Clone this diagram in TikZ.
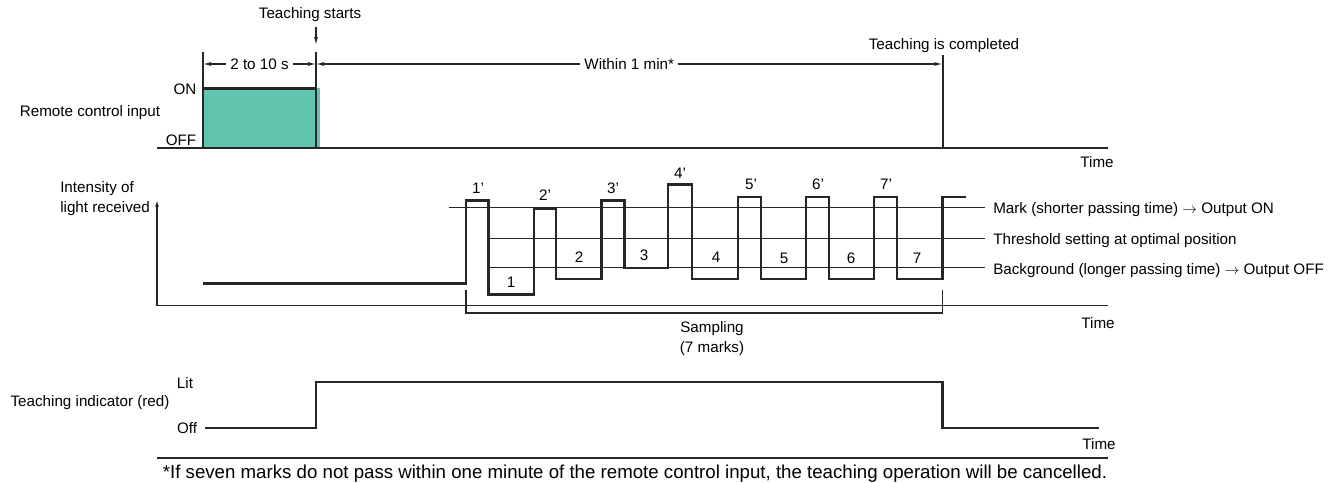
\documentclass[tikz,border=0pt]{standalone}
\usepackage{fontspec}
\setmainfont{Liberation Sans}
\usepackage{xcolor}
\definecolor{teachgreen}{RGB}{96,196,174}
\definecolor{sigdark}{RGB}{38,38,38}
\usetikzlibrary{arrows.meta,positioning}

\begin{document}
\begin{tikzpicture}[x=0.75pt,y=-0.75pt,
    lbl/.style={font=\fontsize{11.4}{13.6}\selectfont, inner sep=0pt},
    sig/.style={line width=1.8pt, draw=sigdark},
    axis/.style={line width=1.2pt, draw=sigdark},
    refline/.style={line width=0.8pt, draw=sigdark},
    dimline/.style={line width=0.9pt, draw=sigdark,
                 {Latex[length=6pt,width=3pt]}-{Latex[length=6pt,width=3pt]}},
    dimtxt/.style={lbl, fill=white, inner xsep=3pt, inner ysep=1pt},
    arr/.style={-{Latex[length=6pt,width=3pt]}, line width=0.9pt, draw=sigdark},
  ]
    \useasboundingbox (0,0) rectangle (1338,482);

    % remote control input
    \node[lbl] (tstart) at (310,15) {Teaching starts};
    \coordinate (tsbeg) at (316,27);
    \coordinate (tsend) at (316,45);
    \draw[arr] (tsbeg) -- (tsend);

    \coordinate (t0) at (203,64);
    \coordinate (t1) at (316,64);
    \coordinate (t2) at (942.5,64);
    \draw[refline] (203,52) -- (203,88);
    \draw[refline] (316,52) -- (316,88);
    \draw[dimline] (t0) -- node[dimtxt] (dimA) {2 to 10 s} (t1);
    \draw[dimline] (t1) -- node[dimtxt] (dimB) {Within 1 min*} (t2);
    \node[lbl] (tdone) at (944,46) {Teaching is completed};
    \draw[line width=1.5pt, draw=sigdark] (942.5,55) -- (942.5,148);

    \fill[teachgreen] (203,88) rectangle (319.5,148);
    \draw[sig, line width=1.5pt] (203,148) -- (203,88.5);
    \draw[sig] (316,88.5) -- (316,148);
    \draw[sig, line width=2.4pt] (202.3,88.5) -- (316.8,88.5);
    \draw[axis] (157,148) -- (1108,148);
    \node[lbl] (on)  at (185,89)  {ON};
    \node[lbl] (off) at (181,140) {OFF};
    \node[lbl] (rci) at (90,112.5) {Remote control input};
    \node[lbl] (time1) at (1097,162) {Time};

    % intensity of light received
    \node[lbl, align=left, anchor=north west] (ilr) at (60,181) {Intensity of\\[1.5pt]light received};
    \draw[axis, -{Latex[length=5pt,width=3pt]}] (157,305.5) -- (157,200);
    \draw[axis] (157,305.5) -- (1108,305.5);
    \node[lbl] (time2) at (1098,323) {Time};

    \draw[refline] (449,207.7) -- (985,207.7);
    \draw[refline] (488.5,238.3) -- (985,238.3);
    \draw[refline] (488.5,267.7) -- (985,267.7);
    \node[lbl, anchor=west] (markl) at (993,210) {Mark (shorter passing time) $\rightarrow$ Output ON};
    \node[lbl, anchor=west] (thrl)  at (993,240.5) {Threshold setting at optimal position};
    \node[lbl, anchor=west] (bgl)   at (993,270.5) {Background (longer passing time) $\rightarrow$ Output OFF};

    \draw[sig] (203,283.3) -- (466,283.3) -- (466,200.3) -- (488.5,200.3)
      -- (488.5,294.3) -- (534,294.3) -- (534,208.5) -- (556,208.5)
      -- (556,279) -- (601.5,279) -- (601.5,200.3) -- (624.5,200.3)
      -- (624.5,268) -- (668,268) -- (668,184.3) -- (692,184.3)
      -- (692,279) -- (738,279) -- (738,196.7) -- (761,196.7)
      -- (761,279) -- (806,279) -- (806,196.7) -- (829,196.7)
      -- (829,279) -- (874,279) -- (874,196.7) -- (897,196.7)
      -- (897,279) -- (942.5,279) -- (942.5,196.7) -- (966,196.7);

    \node[lbl] (m1) at (478,188) {1'};
    \node[lbl] (m2) at (545,195) {2'};
    \node[lbl] (m3) at (613,188) {3'};
    \node[lbl] (m4) at (680,173) {4'};
    \node[lbl] (m5) at (751,184) {5'};
    \node[lbl] (m6) at (818,184) {6'};
    \node[lbl] (m7) at (886,184) {7'};
    \node[lbl] (b1) at (511,282) {1};
    \node[lbl] (b2) at (579,257) {2};
    \node[lbl] (b3) at (644,255) {3};
    \node[lbl] (b4) at (716,257) {4};
    \node[lbl] (b5) at (784,258) {5};
    \node[lbl] (b6) at (851,258) {6};
    \node[lbl] (b7) at (917,258) {7};

    \draw[refline] (466,290) -- (466,313) -- (942.5,313) -- (942.5,290);
    \node[lbl, align=center] (samp) at (712,338.5) {Sampling\\[1.5pt](7 marks)};

    % teaching indicator
    \node[lbl] (lit) at (185,383) {Lit};
    \node[lbl] (ioff) at (187,428) {Off};
    \node[lbl] (tind) at (90,403) {Teaching indicator (red)};
    \draw[sig] (205,427.7) -- (316,427.7) -- (316,381.7) -- (942.5,381.7)
      -- (942.5,427.7) -- (1099,427.7);
    \node[lbl] (time3) at (1099,444) {Time};

    \draw[axis] (157,457.7) -- (1108,457.7);
    \node[font=\fontsize{14}{16}\selectfont, inner sep=0pt] (note) at (635,473.5)
      {*If seven marks do not pass within one minute of the remote control input, the teaching operation will be cancelled.};
  \end{tikzpicture}
\end{document}
